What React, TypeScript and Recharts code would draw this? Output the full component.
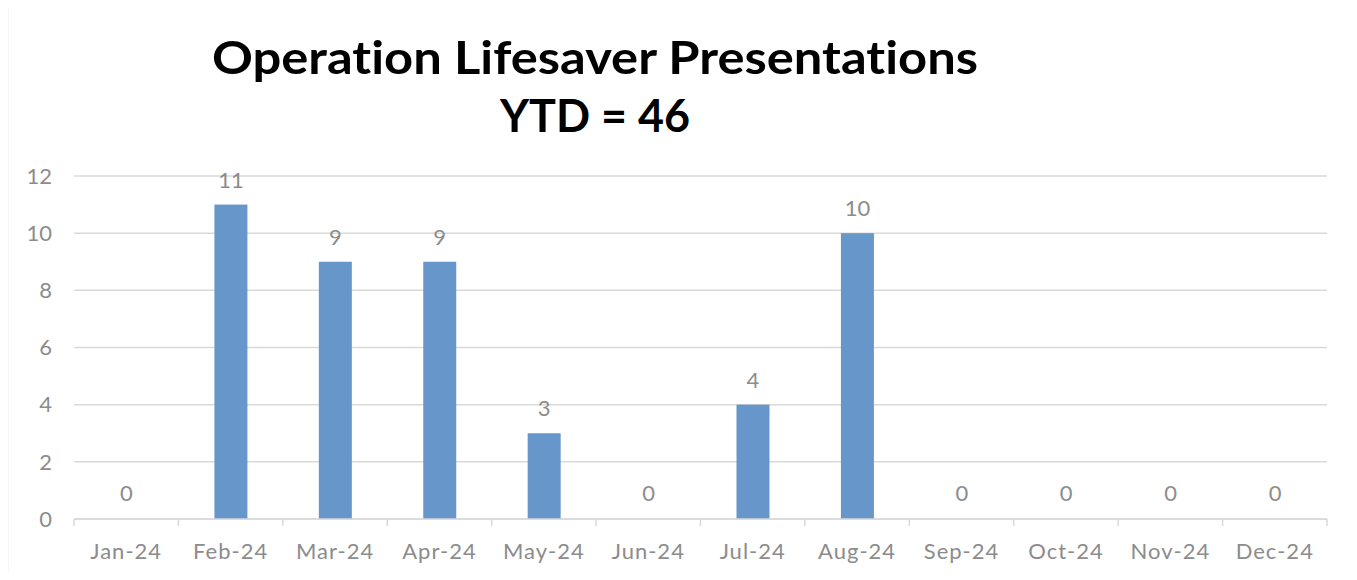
import React from "react";
import { BarChart, Bar, XAxis, YAxis, CartesianGrid, LabelList } from "recharts";

const months = ["Jan-24", "Feb-24", "Mar-24", "Apr-24", "May-24", "Jun-24", "Jul-24", "Aug-24", "Sep-24", "Oct-24", "Nov-24", "Dec-24"];
const presentations = [0, 11, 9, 9, 3, 0, 4, 10, 0, 0, 0, 0];
const yTicks = [0, 2, 4, 6, 8, 10, 12];
const titleLines = ["Operation Lifesaver Presentations", "YTD = 46"];

const data = months.map((month, i) => ({ month, count: presentations[i] }));

const W = 1357;
const H = 580;
const PLOT_LEFT = 74;
const PLOT_RIGHT = 1327;
// half of one category band, used to put tick marks between months
const HALF_BAND = (PLOT_RIGHT - PLOT_LEFT) / months.length / 2;

const GRID = "#d9d9d9";
const TEXT = "#8c8c8c";
const FONT = "Lato, 'Liberation Sans', sans-serif";
const BAR = "#6797ca";

function MonthTick(props: any) {
  const { x, y, payload, index } = props;
  const last = index === months.length - 1;
  return (
    <g>
      <line x1={x - HALF_BAND} x2={x - HALF_BAND} y1={y} y2={y + 7} stroke={GRID} strokeWidth={1.5} />
      {last && <line x1={x + HALF_BAND} x2={x + HALF_BAND} y1={y} y2={y + 7} stroke={GRID} strokeWidth={1.5} />}
      <text x={x} y={y + 40} textAnchor="middle" fill={TEXT} fontSize={22} letterSpacing={1} fontFamily={FONT}>
        {payload.value}
      </text>
    </g>
  );
}

// zero months keep a 1px slot so their "0" label still shows, but draw no rect
function BarShape(props: any) {
  const { x, y, width, height, value } = props;
  const v = Array.isArray(value) ? value[1] - value[0] : value;
  if (!v) return <g />;
  return <rect x={x} y={y} width={width} height={height} fill={BAR} />;
}

export default function App() {
  return (
    <div style={{ position: "relative", width: W, height: H, margin: -8, background: "#fff", overflow: "hidden" }}>
      <svg width={W} height={H} style={{ position: "absolute", left: 0, top: 0 }}>
        <rect x={7.5} y={5.5} width={1344} height={620} fill="none" stroke={GRID} strokeWidth={1.5} />
        <g style={{ fontVariantLigatures: "none" }}>
          <text x={595} y={74} textAnchor="middle" fontSize={46} fontWeight={700} fontFamily={FONT} fill="#000"
            textLength={766} lengthAdjust="spacingAndGlyphs">
            {titleLines[0]}
          </text>
          <text x={595} y={132} textAnchor="middle" fontSize={46} fontWeight={700} fontFamily={FONT} fill="#000"
            textLength={190} lengthAdjust="spacingAndGlyphs">
            {titleLines[1]}
          </text>
        </g>
      </svg>
      <div style={{ position: "absolute", left: 0, top: 0 }}>
        <BarChart
          width={W}
          height={H}
          data={data}
          margin={{ top: 176, right: W - PLOT_RIGHT, bottom: 0, left: 0 }}
          barCategoryGap={0}
        >
          <CartesianGrid vertical={false} stroke={GRID} strokeWidth={1.5} />
          <XAxis
            dataKey="month"
            height={61}
            axisLine={{ stroke: GRID, strokeWidth: 1.5 }}
            tickLine={false}
            tickSize={0}
            tickMargin={0}
            interval={0}
            tick={<MonthTick />}
          />
          <YAxis
            width={PLOT_LEFT}
            domain={[0, 12]}
            ticks={yTicks}
            axisLine={false}
            tickLine={false}
            tickSize={0}
            tickMargin={22}
            tick={{ fill: TEXT, fontSize: 22, fontFamily: FONT }}
          />
          <Bar dataKey="count" fill={BAR} barSize={33} minPointSize={1} shape={<BarShape />} isAnimationActive={false}>
            <LabelList dataKey="count" position="top" offset={17} fill={TEXT} fontSize={22} fontFamily={FONT} />
          </Bar>
        </BarChart>
      </div>
    </div>
  );
}
